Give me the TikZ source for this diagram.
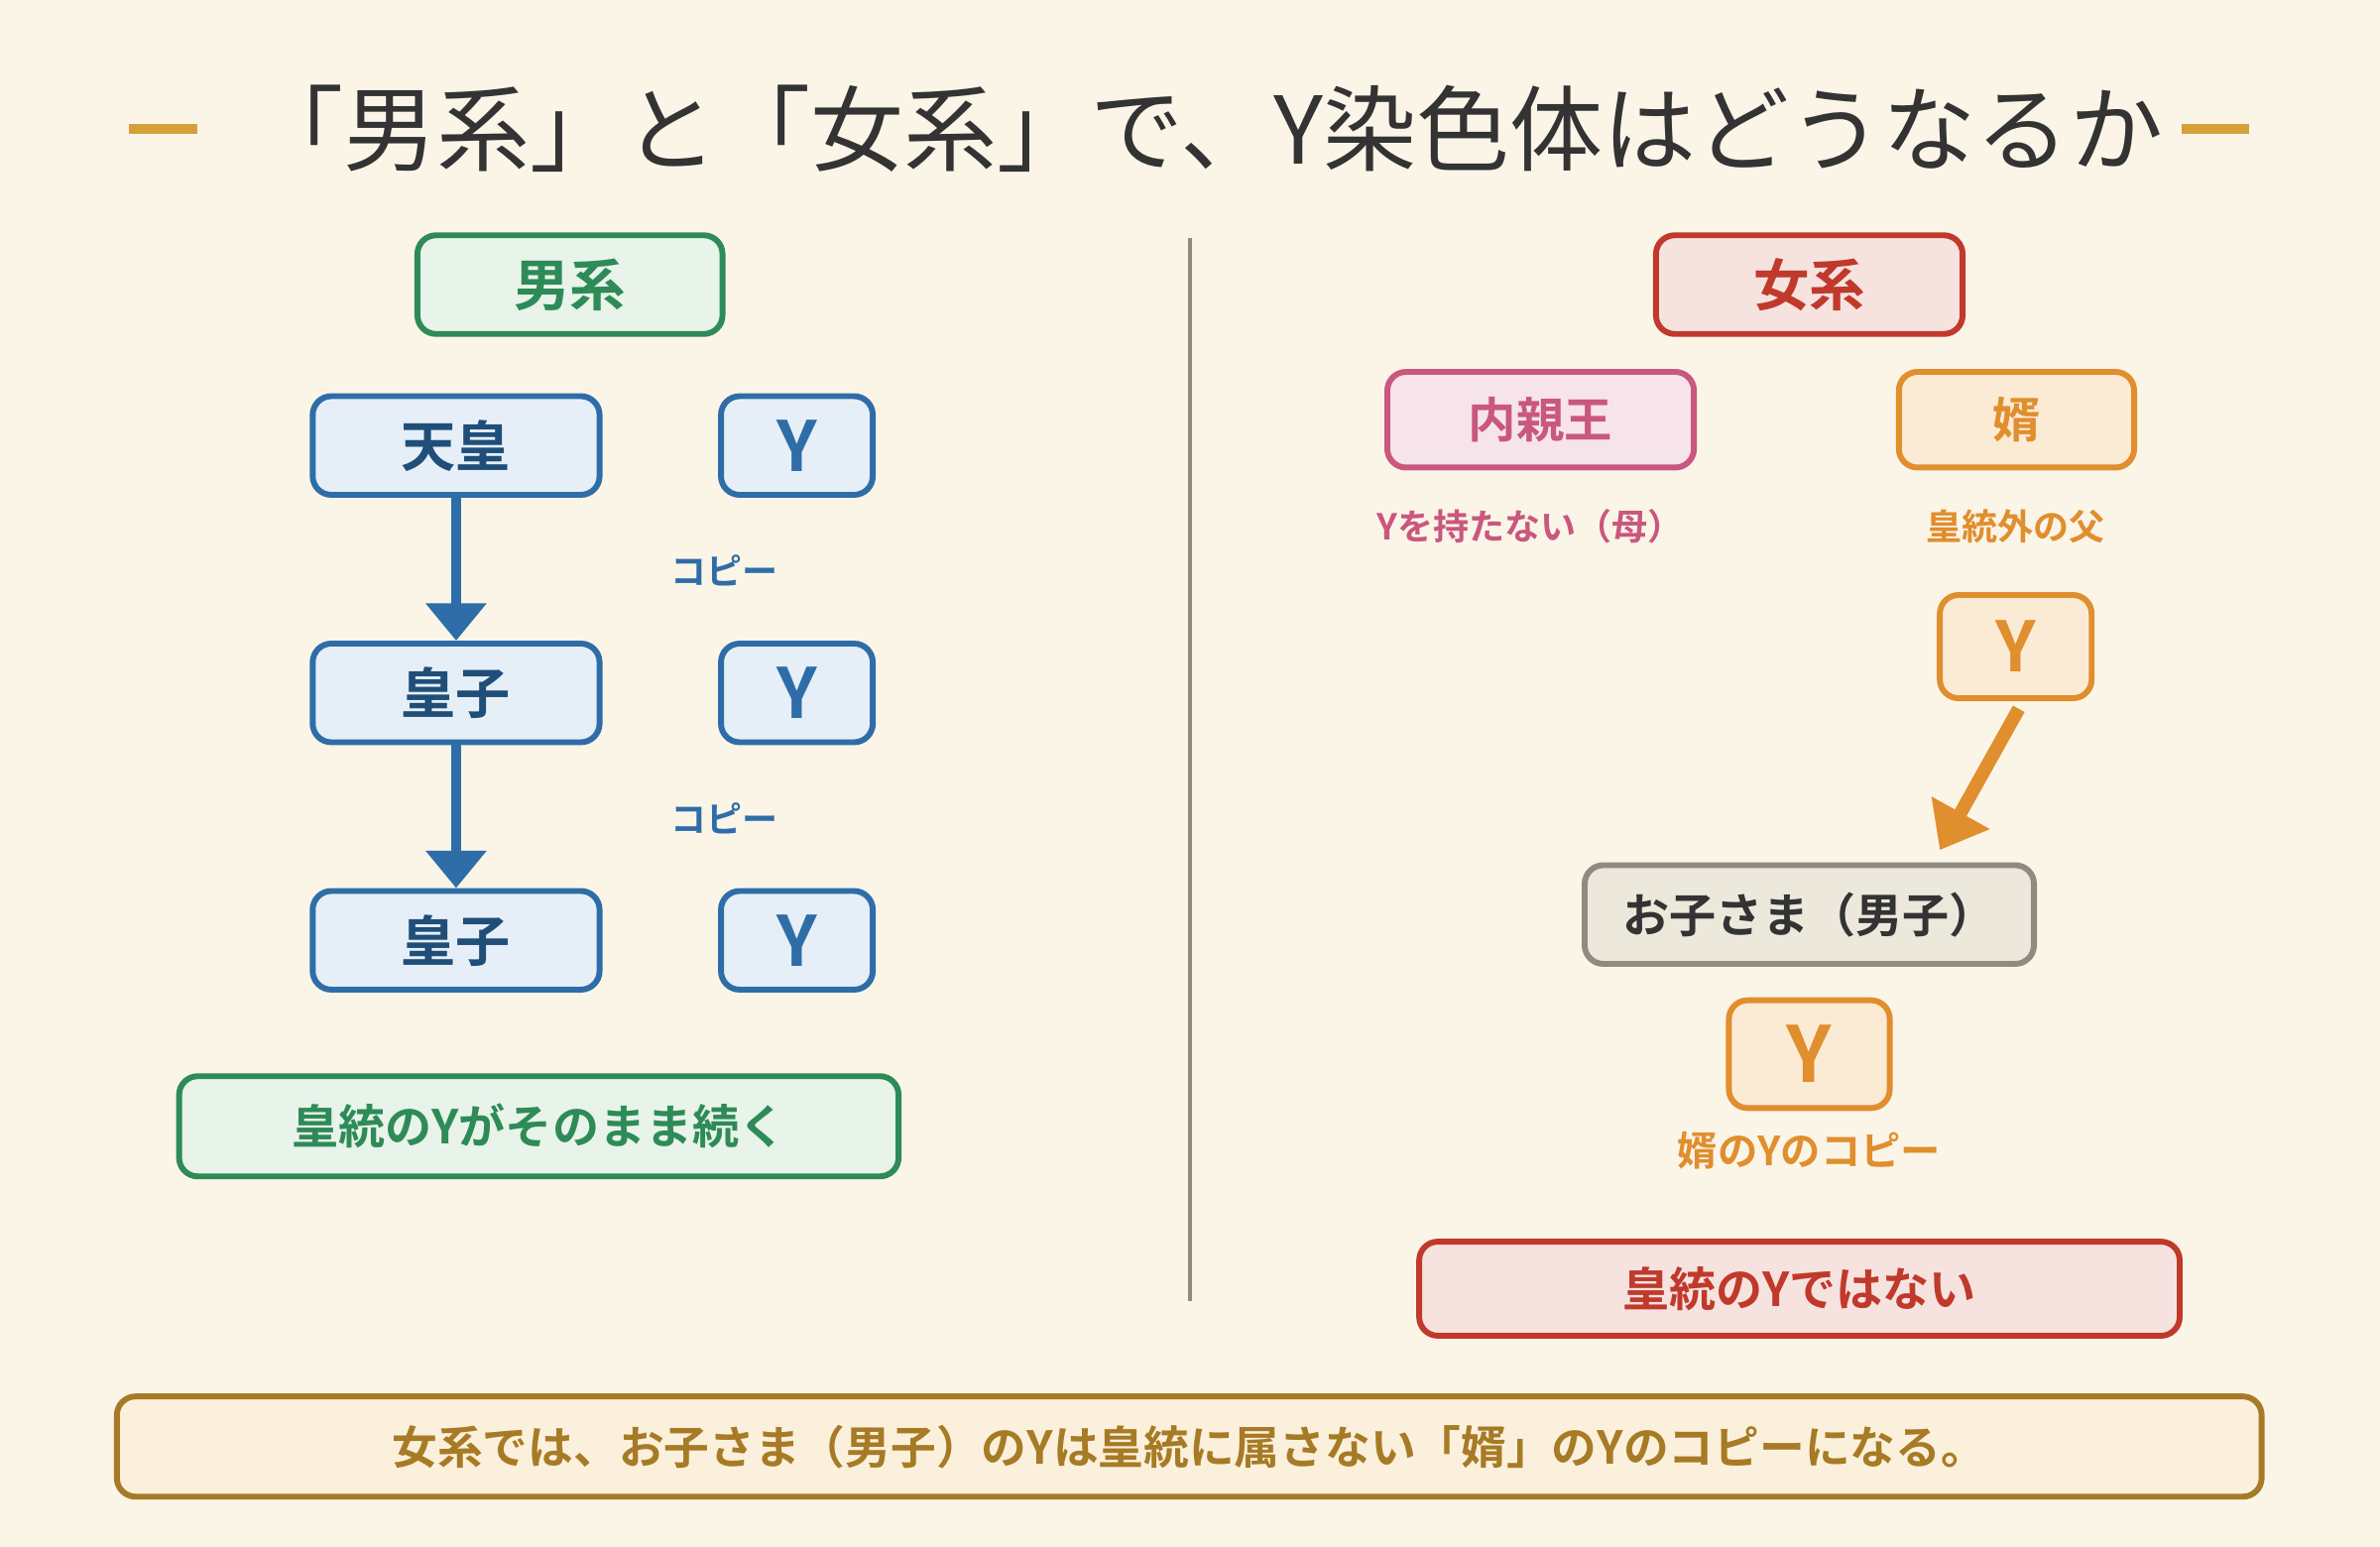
\documentclass[tikz,border=0pt]{standalone}
\usepackage{fontspec}
\newfontfamily\jp{Noto Sans CJK JP}
\newfontfamily\jpb{Noto Sans CJK JP Bold}
\usetikzlibrary{arrows.meta}
\definecolor{bg}{HTML}{FBF5E8}
\definecolor{gold}{HTML}{D4A03A}
\definecolor{gr}{HTML}{2E8B57}\definecolor{grf}{HTML}{E8F3EA}
\definecolor{bl}{HTML}{2E6DA8}\definecolor{blf}{HTML}{E6EFF7}\definecolor{blt}{HTML}{1F4E79}
\definecolor{rd}{HTML}{C0392B}\definecolor{rdf}{HTML}{F6E3E0}
\definecolor{pk}{HTML}{C9577E}\definecolor{pkf}{HTML}{F7E4EA}
\definecolor{or}{HTML}{E08E2E}\definecolor{orf}{HTML}{FBEBD5}
\definecolor{gy}{HTML}{8F8B80}\definecolor{gyf}{HTML}{ECE8DC}
\definecolor{br}{HTML}{A77B25}\definecolor{brf}{HTML}{FBF0DC}
\definecolor{tt}{HTML}{333333}
\begin{document}
\begin{tikzpicture}[x=0.02cm,y=-0.02cm,
 bx/.style={draw,line width=2.2pt,rounded corners=7pt,inner sep=0pt,font=\jpb},
 lab/.style={font=\jpb\fontsize{13.4}{13.4}\selectfont}]
\fill[bg] (0,0) rectangle (1568,1019);
\useasboundingbox (0,0) rectangle (1568,1019);
\draw[gold,line width=4pt] (85,85) -- (130,85) (1437,85) -- (1482,85);
\node[text=tt] (title) at (795,85) {\jp\fontsize{35}{35}\selectfont 「男系」と「女系」で、Y染色体はどうなるか};
\draw[gy,line width=1.5pt] (784,157) -- (784,857);
\tikzset{B/.style n args={5}{bx,minimum width=#3*0.02cm,minimum height=#4*0.02cm,#5}}
\node[B={}{}{201}{65}{draw=gr,fill=grf,text=gr,font=\jpb\fontsize{21}{21}\selectfont}] (dan) at (375.5,187.5) {男系};
\node[B={}{}{189}{65}{draw=bl,fill=blf,text=blt,font=\jpb\fontsize{20.5}{20.5}\selectfont}] (t) at (300.5,293.5) {天皇};
\node[B={}{}{189}{65}{draw=bl,fill=blf,text=blt,font=\jpb\fontsize{20.5}{20.5}\selectfont}] (o1) at (300.5,456.5) {皇子};
\node[B={}{}{189}{65}{draw=bl,fill=blf,text=blt,font=\jpb\fontsize{20.5}{20.5}\selectfont}] (o2) at (300.5,619.5) {皇子};
\foreach \n/\y in {y1/293.5,y2/456.5,y3/619.5}
 \node[B={}{}{100}{65}{draw=bl,fill=blf,text=bl,font=\jpb\fontsize{26}{26}\selectfont}] (\n) at (525,\y) {Y};
\draw[bl,line width=4pt,-{Triangle[length=14pt,width=22pt]}] (t) -- (o1);
\draw[bl,line width=4pt,-{Triangle[length=14pt,width=22pt]}] (o1) -- (o2);
\node[lab,text=bl] (c1) at (477,376) {コピー};
\node[lab,text=bl] (c2) at (477,539) {コピー};
\node[B={}{}{474}{66}{draw=gr,fill=grf,text=gr,font=\jpb\fontsize{17.5}{17.5}\selectfont}] (g) at (355,742) {皇統のYがそのまま続く};
\node[B={}{}{202}{65}{draw=rd,fill=rdf,text=rd,font=\jpb\fontsize{21}{21}\selectfont}] (jo) at (1192,187.5) {女系};
\node[B={}{}{202}{63}{draw=pk,fill=pkf,text=pk,font=\jpb\fontsize{18}{18}\selectfont}] (nai) at (1015,276.5) {内親王};
\node[B={}{}{155}{63}{draw=or,fill=orf,text=or,font=\jpb\fontsize{18}{18}\selectfont}] (muko) at (1328.5,276.5) {婿};
\node[lab,text=pk] (l1) at (1008,347) {Yを持たない（母）};
\node[lab,text=or] (l2) at (1328,347) {皇統外の父};
\node[B={}{}{100}{68}{draw=or,fill=orf,text=or,font=\jpb\fontsize{26}{26}\selectfont}] (my) at (1328,426) {Y};
\node[B={}{}{296}{65}{draw=gy,fill=gyf,text=tt,font=\jpb\fontsize{17.5}{17.5}\selectfont}] (ko) at (1192,602.5) {お子さま（男子）};
\coordinate (ae) at (1278,560);
\draw[or,line width=5pt,-{Triangle[length=16pt,width=24pt]}] (1330,467) -- (ae);
\node[B={}{}{106}{71}{draw=or,fill=orf,text=or,font=\jpb\fontsize{29}{29}\selectfont}] (ky) at (1192,694.5) {Y};
\node[lab,text=or,font=\jpb\fontsize{15}{15}\selectfont] (l3) at (1192,758) {婿のYのコピー};
\node[B={}{}{501}{62}{draw=rd,fill=rdf,text=rd,font=\jpb\fontsize{17.5}{17.5}\selectfont}] (nr) at (1185.5,849) {皇統のYではない};
\node[B={}{}{1413}{66}{draw=br,fill=brf,text=br,font=\jpb\fontsize{17}{17}\selectfont}] (sum) at (783.5,953) {女系では、お子さま（男子）のYは皇統に属さない「婿」のYのコピーになる。};
\end{tikzpicture}
\end{document}
